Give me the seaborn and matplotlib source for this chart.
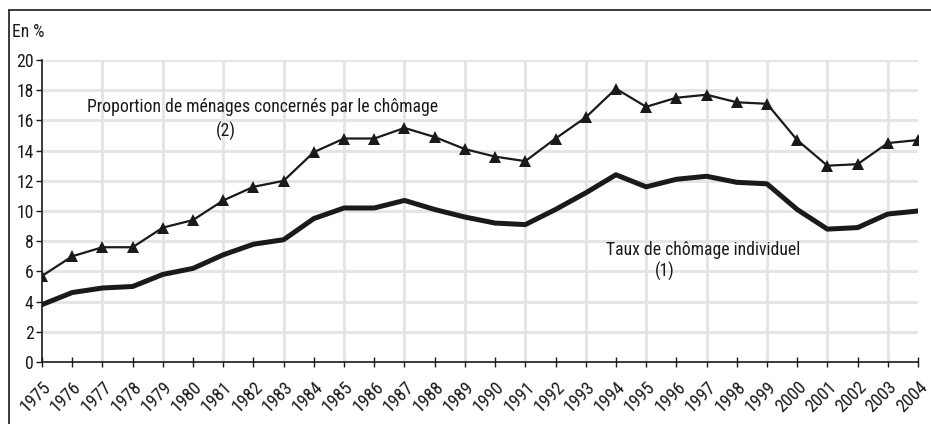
import numpy as np
import pandas as pd
import matplotlib
matplotlib.use("Agg")
import matplotlib.pyplot as plt
from matplotlib.lines import Line2D
from matplotlib import font_manager
import seaborn as sns

years = list(range(1975, 2005))
menages = [5.7, 7.0, 7.6, 7.6, 8.9, 9.4, 10.7, 11.6, 12.0, 13.9,
           14.8, 14.8, 15.5, 14.9, 14.1, 13.6, 13.3, 14.8, 16.2, 18.1,
           16.9, 17.5, 17.7, 17.2, 17.1, 14.7, 13.0, 13.1, 14.5, 14.7]
individuel = [3.8, 4.6, 4.9, 5.0, 5.8, 6.2, 7.1, 7.8, 8.1, 9.5,
              10.2, 10.2, 10.7, 10.1, 9.6, 9.2, 9.1, 10.1, 11.2, 12.4,
              11.6, 12.1, 12.3, 11.9, 11.8, 10.1, 8.8, 8.9, 9.8, 10.0]
label_menages = "Proportion de ménages concernés par le chômage"
label_indiv = "Taux de chômage individuel"
yticks = list(range(0, 21, 2))

sns.set_theme(style="white")
available = {f.name for f in font_manager.fontManager.ttflist}
fams = [f for f in ['Roboto Condensed', 'Liberation Sans Narrow', 'Liberation Sans']
        if f in available] + ['DejaVu Sans']
plt.rcParams['font.family'] = fams

df_m = pd.DataFrame({"annee": years, "valeur": menages})
df_i = pd.DataFrame({"annee": years, "valeur": individuel})

fs = 12.7
fig = plt.figure(figsize=(9.31, 4.24), dpi=100)
ax = fig.add_axes([42/931, 1 - 362/424, (918-42)/931, (362-60)/424])

sns.lineplot(data=df_i, x="annee", y="valeur", ax=ax, color="#1a1a1a",
             linewidth=3.6, solid_joinstyle="round", zorder=3)
sns.lineplot(data=df_m, x="annee", y="valeur", ax=ax, color="#1a1a1a",
             linewidth=1.6, marker="^", markersize=8.5, markeredgewidth=0,
             zorder=4)

ax.set_xlim(1975, 2004)
ax.set_ylim(0, 20)
ax.set_xticks(years)
ax.set_xticklabels([str(y) for y in years], rotation=45, ha="right",
                   rotation_mode="anchor", fontsize=13, color="#1a1a1a")
ax.set_yticks(yticks)
ax.set_yticklabels([str(v) for v in yticks], fontsize=fs, color="#1a1a1a")
ax.set_xlabel("")
ax.set_ylabel("")

for v in yticks[1:]:
    ax.axhline(v, color="#e4e4e4", linewidth=2, zorder=1)
for y in years[2::2]:
    ax.axvline(y, color="#e4e4e4", linewidth=2, zorder=1)

for s in ["top", "right"]:
    ax.spines[s].set_visible(False)
for s in ["left", "bottom"]:
    ax.spines[s].set_color("#1a1a1a")
    ax.spines[s].set_linewidth(1.2)
    ax.spines[s].set_zorder(2)
ax.tick_params(axis="y", direction="out", length=4, width=1, color="#1a1a1a",
               left=True, pad=2)
ax.tick_params(axis="x", direction="inout", length=7, width=1, color="#1a1a1a",
               bottom=True, pad=8)

ax.text(1982.3, 16.9, label_menages, ha="center", va="center",
        fontsize=fs, color="#1a1a1a")
ax.text(1981.1, 15.3, "(2)", ha="center", va="center",
        fontsize=fs, color="#1a1a1a")
ax.text(1996.9, 7.4, label_indiv, ha="center", va="center",
        fontsize=fs, color="#1a1a1a")
ax.text(1995.6, 6.0, "(1)", ha="center", va="center",
        fontsize=fs, color="#1a1a1a")

fig.text(12/931, 1 - 32/424, "En %", ha="left", va="center",
         fontsize=fs, color="#1a1a1a")

fig.add_artist(Line2D([9/931, 1.0], [1 - 9.5/424, 1 - 9.5/424],
                      transform=fig.transFigure, color="#1a1a1a", linewidth=1.2))
fig.add_artist(Line2D([9/931, 9/931], [0, 1 - 9.5/424],
                      transform=fig.transFigure, color="#1a1a1a", linewidth=1.2))

fig.savefig("out.png", dpi=100, facecolor="white")
